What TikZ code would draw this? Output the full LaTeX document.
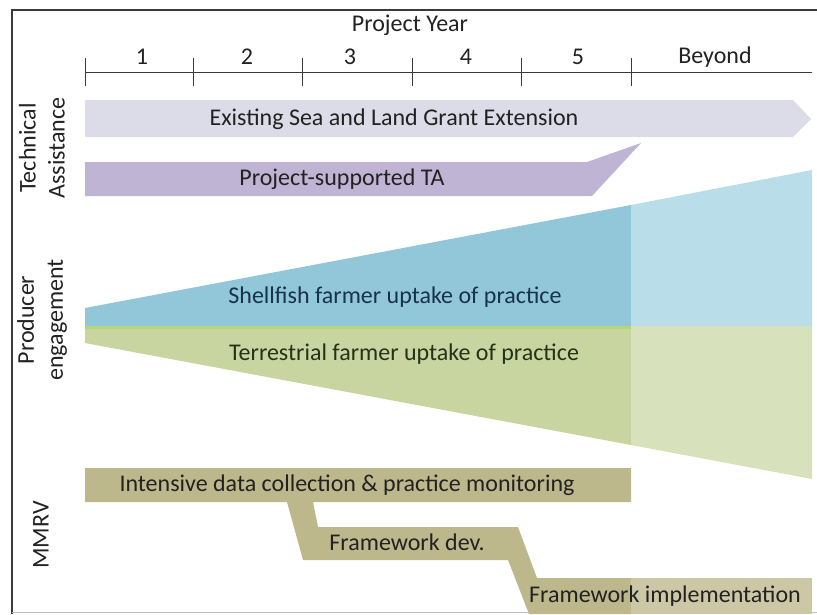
\documentclass[tikz,border=0pt]{standalone}
\usepackage{fontspec}
\setmainfont{Carlito}
\begin{document}
\definecolor{frameline}{HTML}{3A3A3A}
\definecolor{extbar}{HTML}{DCDCE8}
\definecolor{tabar}{HTML}{C0B4D5}
\definecolor{bluedark}{HTML}{92C7D9}
\definecolor{bluelight}{HTML}{B9DEEA}
\definecolor{greendark}{HTML}{C8D5A0}
\definecolor{greenlight}{HTML}{D7E2BC}
\definecolor{greenseam}{HTML}{B5D77A}
\definecolor{khaki}{HTML}{BDB78C}
\definecolor{khakilight}{HTML}{CCC8A6}
\definecolor{txt}{HTML}{222222}
\definecolor{navytxt}{HTML}{17324D}
\definecolor{greentxt}{HTML}{243318}
\begin{tikzpicture}[x=1pt,y=-1pt,
  lbl/.style={font=\fontsize{24}{29}\selectfont, text=txt, inner sep=0pt},
  sidelbl/.style={lbl, rotate=90, align=center},
  axisline/.style={draw=frameline, line width=1pt},
  tick/.style={draw=frameline, line width=0.8pt}]
\useasboundingbox (0,0) rectangle (817,614);
\fill[white] (0,0) rectangle (817,614);

% frame
\draw[frameline, line width=2pt] (12,614) -- (12,10) -- (817,10);
\draw[black!25, line width=1pt] (12,612) -- (817,612);

% time axis
\coordinate (a0) at (85,72);
\coordinate (a1) at (193,72);
\coordinate (a2) at (302,72);
\coordinate (a3) at (412,72);
\coordinate (a4) at (521,72);
\coordinate (a5) at (631,72);
\coordinate (aend) at (812,72);
\draw[axisline] (a0) -- (aend);
\foreach \p in {a0,a1,a2,a3,a4,a5}
  \draw[tick] ([yshift=-14pt]\p) -- ([yshift=14pt]\p);
\node[lbl] (yeartitle) at (410,25) {Project Year};
\node[lbl] (y1) at (142,57) {1};
\node[lbl] (y2) at (247,57) {2};
\node[lbl] (y3) at (350,57) {3};
\node[lbl] (y4) at (466,57) {4};
\node[lbl] (y5) at (578,57) {5};
\node[lbl] (ybeyond) at (715,57) {Beyond};

% technical assistance
\fill[extbar] (85,100) -- (793,100) -- (811,119) -- (793,137) -- (85,137) -- cycle;
\node[lbl] (ext) at (394,119) {Existing Sea and Land Grant Extension};
\fill[tabar] (85,162) -- (587,162) -- (641,143) -- (592,196) -- (85,196) -- cycle;
\node[lbl] (ta) at (342,179) {Project-supported TA};

% producer engagement wedges
\fill[bluedark] (85,308) -- (631,205) -- (631,326) -- (85,326) -- cycle;
\fill[bluelight] (631,205) -- (812,170) -- (812,326) -- (631,326) -- cycle;
\fill[greendark] (85,326) -- (631,326) -- (631,445) -- (85,343) -- cycle;
\fill[greenlight] (631,326) -- (812,326) -- (812,479) -- (631,445) -- cycle;
\draw[greenseam, line width=3pt] (85,327.5) -- (631,327.5);
\node[lbl, text=navytxt] (shell) at (395,297) {Shellfish farmer uptake of practice};
\node[lbl, text=greentxt] (terr) at (404,354) {Terrestrial farmer uptake of practice};

% MMRV staircase
\fill[khaki] (85,468) -- (631,468) -- (631,502) -- (313,502) -- (318,527)
  -- (518,527) -- (537,578) -- (631,578) -- (631,614) -- (529,614)
  -- (508,560) -- (303,560) -- (287,502) -- (85,502) -- cycle;
\fill[khakilight] (631,578) rectangle (812,614);
\node[lbl] (mon) at (347,485) {Intensive data collection \& practice monitoring};
\node[lbl] (fdev) at (407,542) {Framework dev.};
\node[lbl] (fimp) at (665,596) {Framework implementation};

% row labels
\node[sidelbl] (tech) at (42,148) {Technical\\Assistance};
\node[sidelbl] (prod) at (42,320) {Producer\\engagement};
\node[lbl, rotate=90] (mmrv) at (41,535) {MMRV};
\end{tikzpicture}
\end{document}
